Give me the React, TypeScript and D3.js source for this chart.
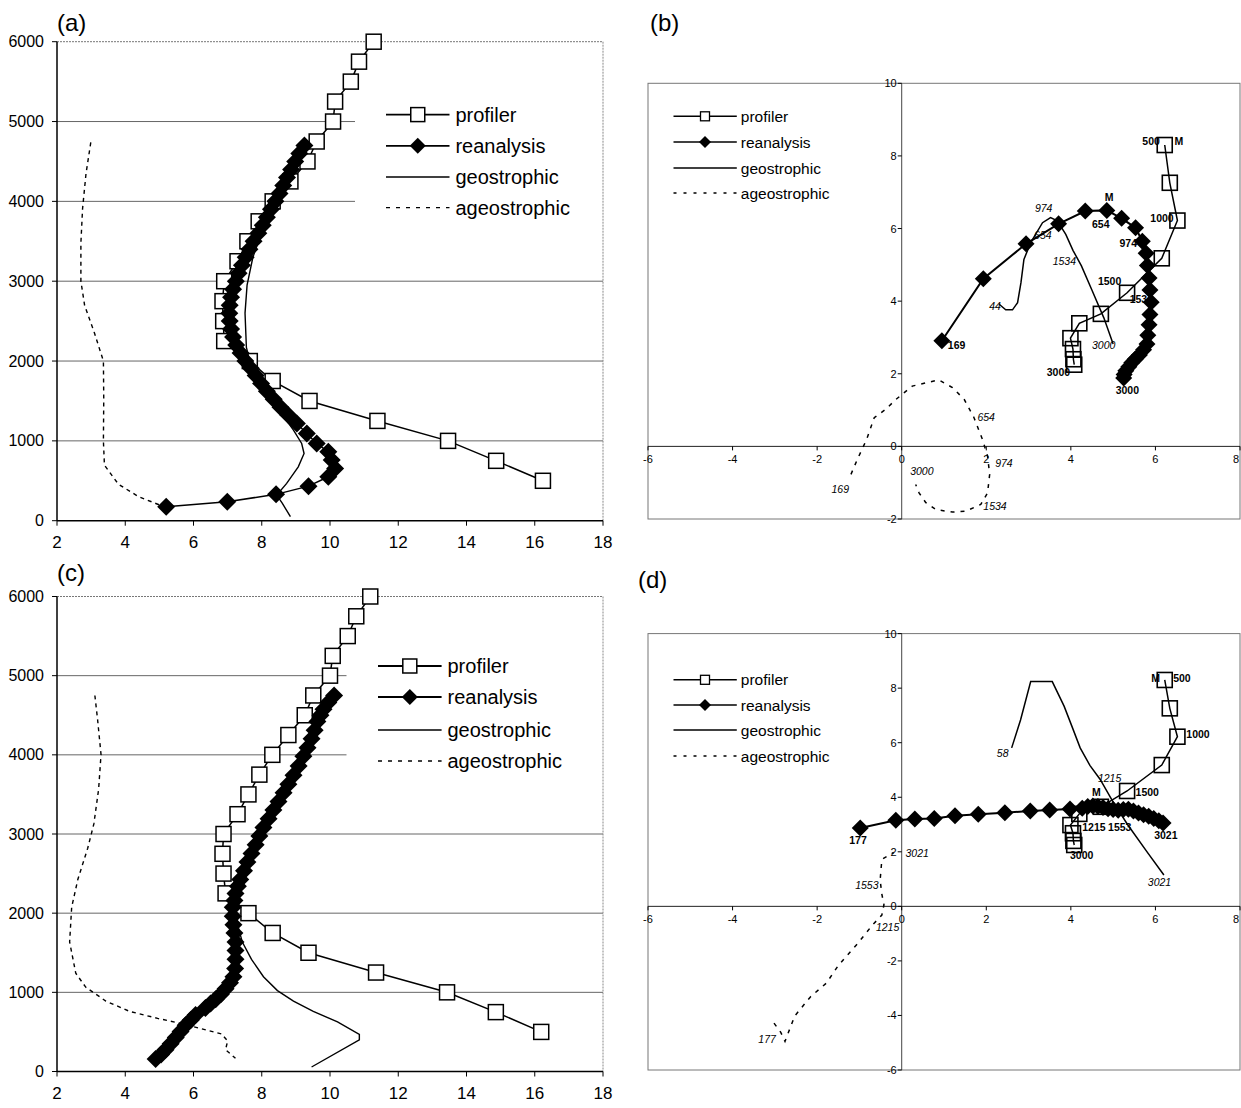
import React from 'react';
import * as d3 from 'd3';

const FONT = '"Liberation Sans", Arial, Helvetica, sans-serif';

// ---------- Panels (a) and (c): speed (m/s) vs height (m) ----------
const profilerHeights = [500, 750, 1000, 1250, 1500, 1750, 2000, 2250, 2500, 2750, 3000, 3250, 3500, 3750, 4000, 4250, 4500, 4750, 5000, 5250, 5500, 5750, 6000];
const profilerSpeedA = [16.24, 14.87, 13.46, 11.39, 9.4, 8.32, 7.65, 6.9, 6.87, 6.85, 6.9, 7.29, 7.58, 7.91, 8.32, 8.84, 9.34, 9.61, 10.09, 10.15, 10.61, 10.85, 11.28];
const profilerSpeedC = [16.19, 14.86, 13.43, 11.35, 9.37, 8.32, 7.61, 6.94, 6.88, 6.85, 6.88, 7.29, 7.61, 7.93, 8.31, 8.78, 9.26, 9.51, 10.0, 10.08, 10.52, 10.77, 11.18];

// [speed, height]
const reanalysisA = [[5.2, 175], [6.99, 238], [8.42, 330], [9.37, 433], [9.95, 550], [10.15, 655], [10.05, 759], [9.95, 863], [9.61, 967], [9.32, 1092], [9.03, 1217], [8.78, 1321], [8.55, 1420], [8.35, 1520], [8.15, 1620], [7.98, 1720], [7.82, 1820], [7.68, 1910], [7.52, 2000], [7.38, 2100], [7.25, 2200], [7.16, 2300], [7.1, 2400], [7.06, 2500], [7.05, 2600], [7.06, 2700], [7.1, 2800], [7.16, 2900], [7.24, 3000], [7.32, 3100], [7.42, 3200], [7.53, 3300], [7.64, 3400], [7.76, 3500], [7.9, 3600], [8.03, 3700], [8.15, 3800], [8.27, 3900], [8.4, 4000], [8.52, 4100], [8.63, 4200], [8.74, 4300], [8.86, 4400], [8.98, 4500], [9.1, 4600], [9.25, 4700]];
const geostrophicA = [[8.84, 50], [8.6, 220], [8.44, 320], [8.73, 467], [9.07, 675], [9.24, 842], [9.17, 967], [8.93, 1134], [8.6, 1330], [8.2, 1520], [7.75, 1820], [7.55, 2170], [7.51, 2600], [7.57, 2950], [7.74, 3300], [8.03, 3650], [8.38, 4000], [8.78, 4350], [9.13, 4610], [9.25, 4700]];
const ageostrophicA = [[2.99, 4739], [2.85, 4348], [2.75, 3913], [2.7, 3478], [2.7, 3000], [2.81, 2696], [3.1, 2348], [3.36, 2000], [3.37, 1522], [3.36, 1000], [3.39, 696], [3.8, 457], [4.38, 304], [5.01, 196]];

const reanalysisC = [[4.89, 158], [5.05, 215], [5.18, 276], [5.33, 350], [5.48, 430], [5.62, 505], [5.77, 583], [5.92, 650], [6.06, 715], [6.35, 803], [6.5, 858], [6.65, 912], [6.8, 975], [6.94, 1044], [7.07, 1120], [7.17, 1197], [7.22, 1300], [7.23, 1417], [7.23, 1530], [7.23, 1636], [7.2, 1750], [7.17, 1855], [7.15, 1960], [7.15, 2075], [7.2, 2160], [7.23, 2250], [7.3, 2340], [7.37, 2425], [7.48, 2535], [7.58, 2645], [7.7, 2755], [7.82, 2864], [7.93, 2975], [8.05, 3083], [8.2, 3193], [8.34, 3303], [8.49, 3412], [8.64, 3522], [8.78, 3630], [8.93, 3741], [9.08, 3860], [9.22, 3982], [9.34, 4090], [9.46, 4202], [9.55, 4310], [9.63, 4421], [9.72, 4500], [9.81, 4575], [9.95, 4660], [10.12, 4750]];
const geostrophicC = [[9.46, 57], [10.86, 400], [10.86, 470], [10.22, 627], [9.51, 759], [8.93, 890], [8.46, 1022], [8.05, 1197], [7.7, 1417], [7.43, 1636], [7.29, 1855], [7.23, 2075], [7.35, 2338], [7.58, 2601], [7.88, 2864], [8.11, 3127], [8.34, 3390], [8.69, 3654], [9.05, 3917], [9.4, 4180], [9.75, 4443], [10.04, 4684]];
const ageostrophicC = [[3.11, 4750], [3.19, 4443], [3.29, 4004], [3.22, 3566], [3.08, 3127], [2.9, 2820], [2.61, 2425], [2.43, 2075], [2.37, 1636], [2.55, 1241], [2.84, 1066], [3.43, 890], [4.13, 759], [4.95, 671], [5.65, 605], [6.24, 539], [6.82, 474], [7.0, 386], [6.94, 276], [7.23, 167]];

const speedTicks = [2, 4, 6, 8, 10, 12, 14, 16, 18];
const heightTicks = [0, 1000, 2000, 3000, 4000, 5000, 6000];
const legendNames = ['profiler', 'reanalysis', 'geostrophic', 'ageostrophic'];

// ---------- Panels (b) and (d): hodographs [u, v] ----------
const profilerHodo = [[6.22, 8.3], [6.34, 7.26], [6.52, 6.22], [6.15, 5.18], [5.33, 4.23], [4.71, 3.65], [4.2, 3.39], [3.99, 2.98], [4.05, 2.68], [4.06, 2.4], [4.08, 2.25]];

const reanalysisB = [[0.95, 2.91], [1.93, 4.62], [2.94, 5.58], [3.71, 6.13], [4.34, 6.48], [4.85, 6.5], [5.2, 6.28], [5.53, 6.02], [5.69, 5.65], [5.78, 5.32], [5.81, 4.98], [5.85, 4.64], [5.87, 4.31], [5.9, 3.97], [5.87, 3.63], [5.85, 3.35], [5.82, 3.06], [5.8, 2.82], [5.72, 2.66], [5.62, 2.52], [5.52, 2.4], [5.44, 2.3], [5.37, 2.19], [5.3, 2.08], [5.26, 1.98], [5.25, 1.88]];
const geostrophicB = [[2.3, 3.92], [2.34, 3.88], [2.46, 3.76], [2.62, 3.76], [2.74, 3.96], [2.82, 4.51], [2.89, 5.15], [3.05, 5.61], [3.33, 6.16], [3.52, 6.3], [3.68, 6.21], [3.88, 5.84], [4.05, 5.4], [4.25, 4.97], [4.5, 4.3], [4.78, 3.54], [5.0, 2.82]];
const ageostrophicB = [[-1.2, -0.77], [-1.05, -0.36], [-0.83, 0.19], [-0.65, 0.79], [-0.38, 1.02], [-0.14, 1.29], [0.06, 1.48], [0.25, 1.66], [0.57, 1.75], [0.88, 1.83], [1.2, 1.62], [1.48, 1.29], [1.71, 0.79], [1.91, 0.19], [2.03, -0.27], [2.08, -0.77], [2.03, -1.28], [1.87, -1.6], [1.52, -1.78], [1.2, -1.81], [0.81, -1.74], [0.57, -1.55], [0.41, -1.28], [0.33, -1.05]];

const reanalysisD = [[-0.98, 2.87], [-0.14, 3.16], [0.31, 3.2], [0.77, 3.22], [1.26, 3.32], [1.81, 3.38], [2.44, 3.43], [3.04, 3.5], [3.5, 3.53], [3.98, 3.57], [4.27, 3.6], [4.4, 3.66], [4.52, 3.68], [4.64, 3.66], [4.76, 3.62], [4.88, 3.58], [5.0, 3.55], [5.12, 3.52], [5.24, 3.55], [5.36, 3.56], [5.48, 3.5], [5.6, 3.42], [5.72, 3.36], [5.84, 3.3], [5.96, 3.22], [6.08, 3.14], [6.18, 3.06]];
const geostrophicD = [[2.6, 5.81], [2.81, 6.83], [3.05, 8.24], [3.56, 8.24], [3.84, 7.34], [4.03, 6.58], [4.22, 5.81], [4.45, 5.17], [4.69, 4.66], [4.97, 3.9], [5.34, 3.0], [5.81, 1.98], [6.2, 1.15]];
const ageostrophicD = [[-3.02, -4.28], [-2.86, -4.62], [-2.76, -4.95], [-2.53, -4.02], [-2.16, -3.32], [-1.78, -2.81], [-1.5, -2.17], [-1.03, -1.34], [-0.7, -0.7], [-0.47, -0.32], [-0.42, 0.06], [-0.47, 0.45], [-0.51, 0.96], [-0.47, 1.72], [-0.19, 1.98]];

const uTicks = [-6, -4, -2, 0, 2, 4, 6, 8];
const vTicksB = [-2, 0, 2, 4, 6, 8, 10];
const vTicksD = [-6, -4, -2, 0, 2, 4, 6, 8, 10];

// annotations: text, u, v (left start, vertical centre), bold or italic
const notesB = [
  { t: '500', u: 5.69, v: 8.42, b: true }, { t: 'M', u: 6.45, v: 8.42, b: true },
  { t: '1000', u: 5.88, v: 6.3, b: true }, { t: '1500', u: 4.64, v: 4.55, b: true },
  { t: '3000', u: 3.43, v: 2.05, b: true }, { t: '169', u: 1.09, v: 2.79, b: true },
  { t: 'M', u: 4.8, v: 6.86, b: true }, { t: '654', u: 4.5, v: 6.12, b: true },
  { t: '974', u: 5.15, v: 5.6, b: true }, { t: '1534', u: 5.39, v: 4.07, b: true },
  { t: '3000', u: 5.06, v: 1.54, b: true },
  { t: '974', u: 3.15, v: 6.57, b: false }, { t: '654', u: 3.13, v: 5.82, b: false },
  { t: '1534', u: 3.57, v: 5.1, b: false }, { t: '44', u: 2.07, v: 3.86, b: false },
  { t: '3000', u: 4.5, v: 2.79, b: false },
  { t: '654', u: 1.79, v: 0.8, b: false }, { t: '974', u: 2.21, v: -0.45, b: false },
  { t: '1534', u: 1.93, v: -1.63, b: false }, { t: '3000', u: 0.2, v: -0.67, b: false },
  { t: '169', u: -1.66, v: -1.17, b: false },
];
const notesD = [
  { t: 'M', u: 5.9, v: 8.37, b: true }, { t: '500', u: 6.42, v: 8.37, b: true },
  { t: '1000', u: 6.73, v: 6.32, b: true }, { t: '1500', u: 5.53, v: 4.18, b: true },
  { t: '3000', u: 3.98, v: 1.9, b: true }, { t: 'M', u: 4.5, v: 4.2, b: true },
  { t: '177', u: -1.24, v: 2.43, b: true }, { t: '1215', u: 4.27, v: 2.92, b: true },
  { t: '1553', u: 4.88, v: 2.92, b: true }, { t: '3021', u: 5.97, v: 2.62, b: true },
  { t: '58', u: 2.25, v: 5.62, b: false }, { t: '1215', u: 4.64, v: 4.72, b: false },
  { t: '3021', u: 5.82, v: 0.9, b: false }, { t: '3021', u: 0.09, v: 1.95, b: false },
  { t: '1553', u: -1.1, v: 0.77, b: false }, { t: '1215', u: -0.61, v: -0.77, b: false },
  { t: '177', u: -3.39, v: -4.85, b: false },
];

const diamond = (r: number) => `M0,${-r}L${r},0L0,${r}L${-r},0Z`;

function ProfilePanel(p: any) {
  const x = d3.scaleLinear().domain([2, 18]).range([57, 603]);
  const y = d3.scaleLinear().domain([0, 6000]).range([p.bottom, p.top]);
  const line = d3.line<number[]>().x(d => x(d[0])).y(d => y(d[1]));
  const prof = profilerHeights.map((h, i) => [p.prof[i], h]);
  const [x0, x1] = x.range();
  return (
    <g fontFamily={FONT}>
      <text x={57} y={p.letterY} fontSize={24}>{p.letter}</text>
      {heightTicks.filter(h => h > 0).map(h => (
        <line key={h} x1={x0} x2={h >= 4000 && h < 6000 ? p.gridEnd : x1} y1={y(h)} y2={y(h)}
          stroke={h === 6000 ? '#777' : '#666'} strokeWidth={1} strokeDasharray={h === 6000 ? '2,1' : undefined} />
      ))}
      <line x1={x1} x2={x1} y1={y(6000)} y2={y(0)} stroke="#888" strokeDasharray="2,1" />
      <line x1={x0} x2={x0} y1={y(6000)} y2={y(0)} stroke="#000" strokeWidth={1.5} />
      <line x1={x0} x2={x1} y1={y(0)} y2={y(0)} stroke="#000" strokeWidth={1.5} />
      {heightTicks.map(h => (
        <g key={h}>
          <line x1={x0 - 5} x2={x0} y1={y(h)} y2={y(h)} stroke="#000" />
          <text x={44} y={y(h) + 5.5} fontSize={16} textAnchor="end">{h}</text>
        </g>
      ))}
      {speedTicks.map(s => (
        <g key={s}>
          <line x1={x(s)} x2={x(s)} y1={y(0)} y2={y(0) + 5} stroke="#000" />
          <text x={x(s)} y={y(0) + 27} fontSize={17} textAnchor="middle">{s}</text>
        </g>
      ))}
      <path d={line(prof) || ''} fill="none" stroke="#000" strokeWidth={1.5} />
      {prof.map((d, i) => (
        <rect key={i} x={x(d[0]) - 7.5} y={y(d[1]) - 7.5} width={15} height={15} fill="#fff" stroke="#000" strokeWidth={1.5} />
      ))}
      <path d={line(p.rean) || ''} fill="none" stroke="#000" strokeWidth={1.5} />
      {p.rean.map((d: number[], i: number) => (
        <path key={i} d={diamond(9)} transform={`translate(${x(d[0])},${y(d[1])})`} fill="#000" />
      ))}
      <path d={line(p.geo) || ''} fill="none" stroke="#000" strokeWidth={1.4} />
      <path d={line(p.ageo) || ''} fill="none" stroke="#000" strokeWidth={1.4} strokeDasharray="4,4" />
      {legendNames.map((n, i) => {
        const ly = p.legendY[i];
        const [lx0, lx1, tx] = p.legendX;
        const mx = (lx0 + lx1) / 2;
        return (
          <g key={n}>
            <line x1={lx0} x2={lx1} y1={ly} y2={ly} stroke="#000" strokeWidth={i < 2 ? 1.8 : 1.4} strokeDasharray={i === 3 ? '4,6' : undefined} />
            {i === 0 && <rect x={mx - 7} y={ly - 7} width={14} height={14} fill="#fff" stroke="#000" strokeWidth={1.5} />}
            {i === 1 && <path d={diamond(8)} transform={`translate(${mx},${ly})`} fill="#000" />}
            <text x={tx} y={ly + 7} fontSize={20}>{n}</text>
          </g>
        );
      })}
    </g>
  );
}

function HodoPanel(p: any) {
  const x = d3.scaleLinear().domain([-6, 8]).range([648, 1240]);
  const y = d3.scaleLinear().domain([p.vMin, 10]).range([p.bottom, p.top]);
  const line = d3.line<number[]>().x(d => x(d[0])).y(d => y(d[1]));
  const legY = p.legendY;
  return (
    <g fontFamily={FONT}>
      <text x={p.letterX} y={p.letterY} fontSize={24}>{p.letter}</text>
      <rect x={648} y={p.top} width={1240 - 648} height={p.bottom - p.top} fill="none" stroke="#777" strokeWidth={1} />
      <line x1={648} x2={1240} y1={y(0)} y2={y(0)} stroke="#222" strokeWidth={1} />
      <line x1={x(0)} x2={x(0)} y1={p.top} y2={p.bottom} stroke="#444" strokeWidth={1} />
      {p.vTicks.map((v: number) => (
        <g key={v}>
          <line x1={x(0) - 4} x2={x(0)} y1={y(v)} y2={y(v)} stroke="#000" />
          <text x={x(0) - 5} y={y(v) + 4} fontSize={11} textAnchor="end">{v}</text>
        </g>
      ))}
      {uTicks.map((u, i) => (
        <g key={u}>
          <line x1={x(u)} x2={x(u)} y1={y(0)} y2={y(0) + 4} stroke="#000" />
          <text x={i === uTicks.length - 1 ? x(u) - 1 : x(u)} y={y(0) + 17} fontSize={11}
            textAnchor={i === uTicks.length - 1 ? 'end' : 'middle'}>{u}</text>
        </g>
      ))}
      {p.notes.map((n: any, i: number) => (
        <text key={i} x={x(n.u)} y={y(n.v) + 4} fontSize={10.5} fontWeight={n.b ? 'bold' : 'normal'} fontStyle={n.b ? 'normal' : 'italic'}>{n.t}</text>
      ))}
      <path d={line(p.ageo) || ''} fill="none" stroke="#000" strokeWidth={1.5} strokeDasharray="4,6" />
      <path d={line(p.geo) || ''} fill="none" stroke="#000" strokeWidth={1.5} />
      <path d={line(profilerHodo) || ''} fill="none" stroke="#000" strokeWidth={1.5} />
      {profilerHodo.map((d, i) => (
        <rect key={i} x={x(d[0]) - 7.5} y={y(d[1]) - 7.5} width={15} height={15} fill="none" stroke="#000" strokeWidth={1.6} />
      ))}
      <path d={line(p.rean) || ''} fill="none" stroke="#000" strokeWidth={2} />
      {p.rean.map((d: number[], i: number) => (
        <path key={i} d={diamond(8.5)} transform={`translate(${x(d[0])},${y(d[1])})`} fill="#000" />
      ))}
      {legendNames.map((n, i) => {
        const ly = legY[i];
        return (
          <g key={n}>
            <line x1={673.5} x2={736.8} y1={ly} y2={ly} stroke="#000" strokeWidth={i < 2 ? 1.6 : 1.3} strokeDasharray={i === 3 ? '3,7' : undefined} />
            {i === 0 && <rect x={700.5} y={ly - 4.5} width={9} height={9} fill="#fff" stroke="#000" strokeWidth={1.3} />}
            {i === 1 && <path d={diamond(6)} transform={`translate(705,${ly})`} fill="#000" />}
            <text x={740.8} y={ly + 5.5} fontSize={15.5}>{n}</text>
          </g>
        );
      })}
    </g>
  );
}

export default function App() {
  return (
    <svg width={1241} height={1108} style={{ position: 'absolute', left: 0, top: 0, background: '#fff' }}>
      <rect width={1241} height={1108} fill="#fff" />
      <ProfilePanel top={41.7} bottom={520.7} gridEnd={355} letter="(a)" letterY={31}
        prof={profilerSpeedA} rean={reanalysisA} geo={geostrophicA} ageo={ageostrophicA}
        legendX={[386, 449.5, 455.4]} legendY={[114.6, 145.8, 177, 207.6]} />
      <ProfilePanel top={596.5} bottom={1071.5} gridEnd={346.5} letter="(c)" letterY={581}
        prof={profilerSpeedC} rean={reanalysisC} geo={geostrophicC} ageo={ageostrophicC}
        legendX={[378, 441.6, 447.5]} legendY={[666, 697, 730, 761]} />
      <HodoPanel top={83.3} bottom={519} vMin={-2} vTicks={vTicksB} letter="(b)" letterX={650} letterY={31}
        rean={reanalysisB} geo={geostrophicB} ageo={ageostrophicB} notes={notesB}
        legendY={[116.3, 142, 168, 193]} />
      <HodoPanel top={633.6} bottom={1070} vMin={-6} vTicks={vTicksD} letter="(d)" letterX={638} letterY={588}
        rean={reanalysisD} geo={geostrophicD} ageo={ageostrophicD} notes={notesD}
        legendY={[679.8, 705, 730, 756]} />
    </svg>
  );
}
